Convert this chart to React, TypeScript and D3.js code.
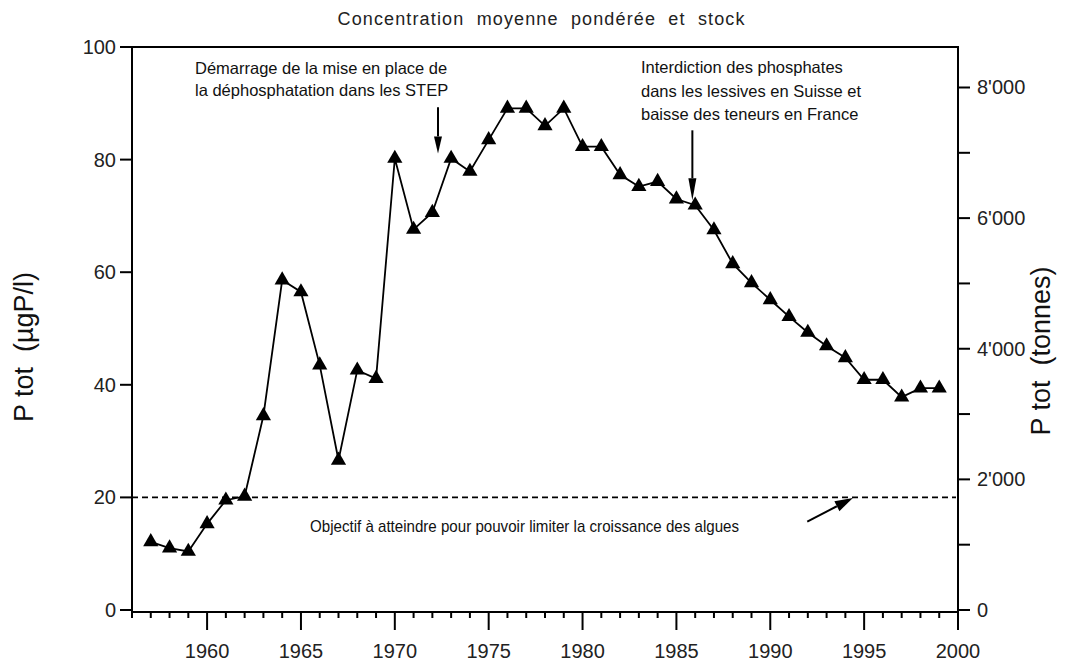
import React from "react";
import * as d3 from "d3";

const years = [
  1957, 1958, 1959, 1960, 1961, 1962, 1963, 1964, 1965, 1966, 1967, 1968, 1969, 1970, 1971,
  1972, 1973, 1974, 1975, 1976, 1977, 1978, 1979, 1980, 1981, 1982, 1983, 1984, 1985, 1986,
  1987, 1988, 1989, 1990, 1991, 1992, 1993, 1994, 1995, 1996, 1997, 1998, 1999,
];
const ptot = [
  12.1, 11.0, 10.4, 15.3, 19.5, 20.2, 34.5, 58.6, 56.5, 43.5, 26.6, 42.6, 41.1, 80.2, 67.6,
  70.6, 80.2, 77.9, 83.5, 89.1, 89.1, 86.0, 89.1, 82.3, 82.3, 77.3, 75.2, 76.1, 73.0, 71.9,
  67.5, 61.5, 58.1, 55.1, 52.1, 49.3, 46.9, 44.8, 40.9, 40.9, 37.8, 39.4, 39.4,
];
const leftTicks = [0, 20, 40, 60, 80, 100];
const rightTicks = [0, 1000, 2000, 3000, 4000, 5000, 6000, 7000, 8000];
const xLabels = [1960, 1965, 1970, 1975, 1980, 1985, 1990, 1995, 2000];
const objective = 20;

const title = "Concentration  moyenne  pondérée  et  stock";
const note1 = ["Démarrage de la mise en place de", "la déphosphatation dans les STEP"];
const note2 = ["Interdiction des phosphates", "dans les lessives en Suisse et", "baisse des teneurs en France"];
const note3 = "Objectif à atteindre pour pouvoir limiter la croissance des algues";

const W = 1066;
const H = 665;
const font = "'Liberation Sans', Arial, sans-serif";

const Arrow = ({ x1, y1, x2, y2, len, wid }) => {
  const a = Math.atan2(y2 - y1, x2 - x1);
  const bx = x2 - len * Math.cos(a);
  const by = y2 - len * Math.sin(a);
  const px = (wid / 2) * Math.sin(a);
  const py = (wid / 2) * Math.cos(a);
  return (
    <g>
      <line x1={x1} y1={y1} x2={bx} y2={by} stroke="#000" strokeWidth={2} />
      <polygon points={`${x2},${y2} ${bx + px},${by - py} ${bx - px},${by + py}`} fill="#000" />
    </g>
  );
};

export default function App() {
  const x = d3.scaleLinear().domain([1956, 2000]).range([132, 958]);
  const yL = d3.scaleLinear().domain([0, 100]).range([610, 47]);
  const yR = d3.scaleLinear().domain([0, 8620]).range([610, 47]);
  const baseY = 612;

  const line = d3
    .line<number>()
    .x((d, i) => x(years[i]))
    .y((d) => yL(d));
  const tri = d3.symbol().type(d3.symbolTriangle).size(100)();
  const fmt = (v) => d3.format(",")(v).replace(/,/g, "'");
  const allYears = d3.range(1956, 2001);

  return (
    <svg width={W} height={H} style={{ position: "absolute", left: 0, top: 0, background: "#fff" }}>
      <text x={541} y={25} textAnchor="middle" fontFamily={font} fontSize={18} textLength={407} lengthAdjust="spacing" fill="#222" style={{ whiteSpace: "pre" }}>
        {title}
      </text>

      {/* frame */}
      <rect x={132} y={47} width={958 - 132} height={baseY - 47} fill="none" stroke="#000" strokeWidth={2} />

      {/* left axis */}
      {leftTicks.map((t) => (
        <g key={"l" + t}>
          <line x1={120} x2={132} y1={yL(t)} y2={yL(t)} stroke="#000" strokeWidth={2} />
          <text x={116} y={yL(t)} dy="0.35em" textAnchor="end" fontFamily={font} fontSize={20} fill="#222">
            {t}
          </text>
        </g>
      ))}

      {/* right axis */}
      {rightTicks.map((t) => (
        <g key={"r" + t}>
          <line x1={958} x2={970} y1={yR(t)} y2={yR(t)} stroke="#000" strokeWidth={2} />
          {t % 2000 === 0 && (
            <text x={977} y={yR(t)} dy="0.35em" fontFamily={font} fontSize={20} fill="#222">
              {fmt(t)}
            </text>
          )}
        </g>
      ))}

      {/* x axis */}
      {allYears.map((yr) => (
        <line
          key={"x" + yr}
          x1={x(yr)}
          x2={x(yr)}
          y1={baseY}
          y2={baseY + (yr % 5 === 0 ? 18 : 6)}
          stroke="#000"
          strokeWidth={2}
        />
      ))}
      {xLabels.map((yr) => (
        <text key={"xl" + yr} x={x(yr)} y={658} textAnchor="middle" fontFamily={font} fontSize={20} fill="#222">
          {yr}
        </text>
      ))}

      {/* axis titles */}
      <text transform={`translate(33,347) rotate(-90)`} textAnchor="middle" fontFamily={font} fontSize={27} fill="#111" style={{ whiteSpace: "pre" }}>
        {"P tot  (µgP/l)"}
      </text>
      <text transform={`translate(1050,351) rotate(-90)`} textAnchor="middle" fontFamily={font} fontSize={27} fill="#111" style={{ whiteSpace: "pre" }}>
        {"P tot  (tonnes)"}
      </text>

      {/* objective */}
      <line x1={132} x2={956} y1={yL(objective)} y2={yL(objective)} stroke="#000" strokeWidth={1.6} strokeDasharray="6,4" />
      <text x={310} y={532} fontFamily={font} fontSize={17} textLength={429} lengthAdjust="spacingAndGlyphs" fill="#111">
        {note3}
      </text>
      <Arrow x1={x(1991.97)} y1={yL(15.7)} x2={x(1994.4)} y2={yL(19.9)} len={18} wid={11} />

      {/* data */}
      <path d={line(ptot)} fill="none" stroke="#000" strokeWidth={1.8} />
      {ptot.map((v, i) => (
        <path key={"p" + i} d={tri} transform={`translate(${x(years[i])},${yL(v)})`} fill="#000" />
      ))}

      {/* annotations */}
      {note1.map((s, i) => (
        <text key={"n1" + i} x={195} y={74 + i * 22} fontFamily={font} fontSize={16.5} fill="#111">
          {s}
        </text>
      ))}
      <Arrow x1={x(1972.3)} y1={yL(89.3)} x2={x(1972.3)} y2={yL(81.1)} len={17} wid={8} />
      {note2.map((s, i) => (
        <text key={"n2" + i} x={641} y={73 + i * 23.5} fontFamily={font} fontSize={16.5} fill="#111">
          {s}
        </text>
      ))}
      <Arrow x1={x(1985.85)} y1={yL(85.2)} x2={x(1985.85)} y2={yL(72.8)} len={22} wid={8} />
    </svg>
  );
}
